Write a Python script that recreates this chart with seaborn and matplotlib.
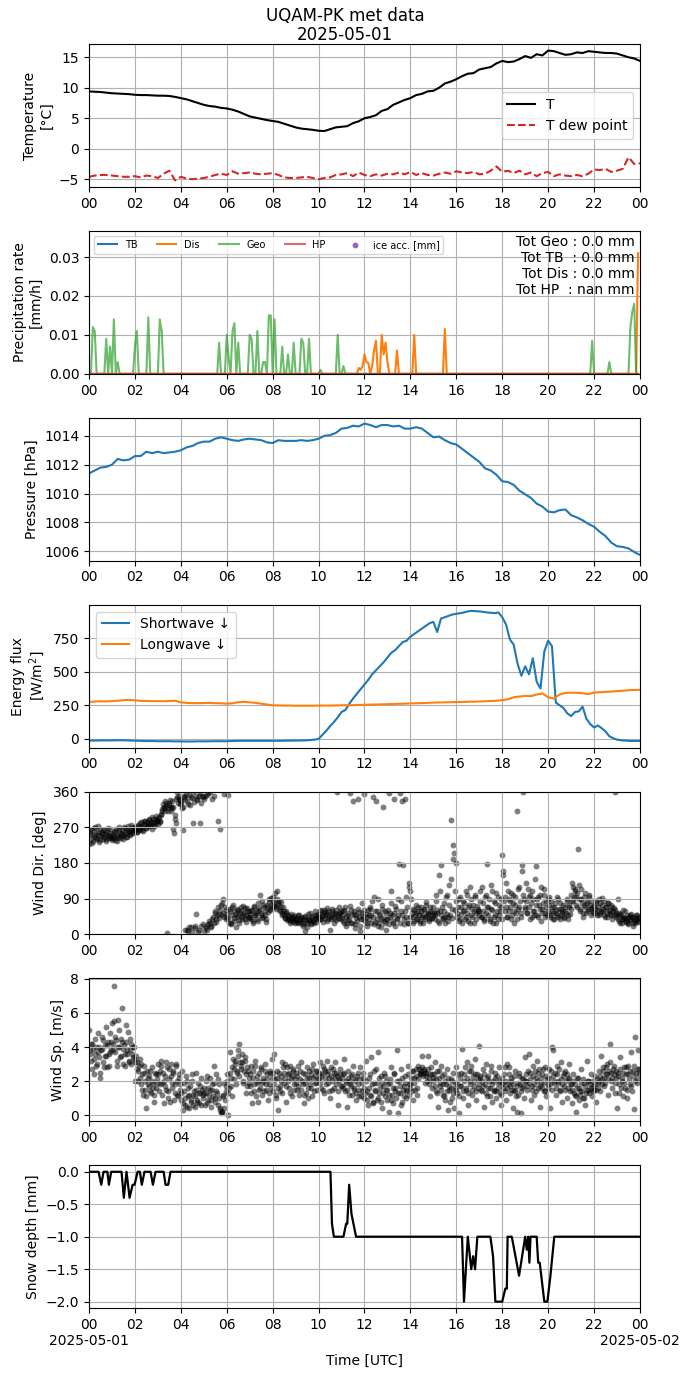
import matplotlib
matplotlib.use("Agg")
import matplotlib.pyplot as plt
import matplotlib.dates as mdates
from matplotlib.ticker import FuncFormatter, MultipleLocator
import pandas as pd
import seaborn as sns

DAY = "2025-05-01"

# ---------------------------
# data
# ---------------------------
# 15-min values
temp = [
    9.4, 9.35, 9.3, 9.2, 9.1, 9.05, 9.0, 8.95, 8.85, 8.8, 8.8, 8.75,
    8.7, 8.7, 8.65, 8.5, 8.3, 8.1, 7.8, 7.5, 7.2, 7.0, 6.9, 6.7,
    6.6, 6.4, 6.1, 5.7, 5.3, 5.1, 4.9, 4.7, 4.55, 4.4, 4.1, 3.8,
    3.5, 3.3, 3.2, 3.1, 2.95, 2.9, 3.2, 3.5, 3.6, 3.7, 4.2, 4.5,
    5.0, 5.2, 5.5, 6.2, 6.5, 7.2, 7.6, 8.0, 8.3, 8.8, 9.0, 9.4,
    9.5, 10.0, 10.7, 11.0, 11.4, 11.9, 12.3, 12.4, 13.0, 13.2, 13.4, 14.0,
    14.4, 14.2, 14.3, 14.7, 15.2, 14.9, 15.5, 15.3, 16.1, 16.0, 15.7, 15.4,
    15.5, 15.8, 15.7, 16.0, 15.9, 15.8, 15.7, 15.7, 15.6, 15.3, 15.0, 14.8,
    14.4,
]
dew = [
    -4.6, -4.4, -4.3, -4.3, -4.4, -4.5, -4.6, -4.6, -4.5, -4.7, -4.4, -4.5,
    -4.8, -4.1, -3.6, -5.2, -4.6, -4.9, -5.0, -4.9, -4.8, -4.6, -4.3, -4.1,
    -4.3, -3.7, -4.1, -4.0, -3.9, -4.1, -4.2, -4.1, -4.0, -4.3, -4.7, -4.8,
    -4.8, -4.7, -4.6, -4.8, -5.0, -4.8, -4.7, -4.3, -4.2, -4.0, -4.5, -3.9,
    -4.3, -4.5, -4.2, -4.4, -4.1, -4.2, -3.9, -4.2, -3.8, -4.3, -4.0, -4.3,
    -4.4, -4.1, -3.9, -4.1, -3.7, -3.9, -4.0, -3.8, -4.2, -4.1, -3.6, -2.9,
    -3.8, -3.6, -4.0, -3.6, -4.2, -3.9, -4.5, -4.0, -3.8, -4.5, -4.2, -4.4,
    -4.5, -4.3, -4.5, -4.1, -3.4, -3.5, -3.3, -3.8, -3.6, -3.3, -1.4, -2.5,
    -2.4,
]
pressure = [
    1011.4, 1011.6, 1011.8, 1011.85, 1012.0, 1012.4, 1012.3, 1012.35,
    1012.6, 1012.6, 1012.9, 1012.8, 1012.9, 1012.8, 1012.85, 1012.9,
    1013.0, 1013.2, 1013.3, 1013.5, 1013.6, 1013.6, 1013.8, 1013.9,
    1013.8, 1013.7, 1013.65, 1013.75, 1013.8, 1013.75, 1013.7, 1013.55,
    1013.5, 1013.7, 1013.65, 1013.65, 1013.65, 1013.7, 1013.65, 1013.7,
    1013.8, 1014.0, 1014.05, 1014.2, 1014.5, 1014.55, 1014.7, 1014.65,
    1014.85, 1014.75, 1014.6, 1014.75, 1014.75, 1014.65, 1014.7, 1014.5,
    1014.5, 1014.6, 1014.5, 1014.2, 1013.9, 1013.95, 1013.7, 1013.5,
    1013.4, 1013.1, 1012.8, 1012.5, 1012.2, 1011.75, 1011.6, 1011.3,
    1010.85, 1010.8, 1010.6, 1010.2, 1009.95, 1009.7, 1009.3, 1009.1,
    1008.75, 1008.7, 1008.85, 1008.9, 1008.5, 1008.35, 1008.15, 1007.9,
    1007.7, 1007.35, 1007.05, 1006.6, 1006.35, 1006.3, 1006.2, 1005.95,
    1005.75,
]
longwave = [
    275, 278, 280, 279, 281, 284, 288, 290, 287, 283, 282, 281,
    281, 280, 282, 284, 272, 268, 266, 266, 267, 268, 266, 265,
    262, 265, 273, 276, 272, 268, 262, 256, 250, 249, 248, 248,
    247, 247, 247, 247, 248, 248, 248, 249, 250, 251, 251, 252,
    254, 255, 256, 257, 258, 260, 261, 262, 264, 265, 266, 268,
    270, 271, 272, 273, 274, 275, 276, 277, 278, 280, 282, 284,
    288, 295, 310, 315, 320, 318, 330, 338, 310, 300, 330, 342,
    344, 343, 340, 333, 345, 347, 350, 352, 355, 358, 362, 364,
    365,
]
# 10-min values
shortwave = [
    -12, -12, -12, -11, -11, -11, -11, -10, -10, -10, -11, -12,
    -13, -14, -15, -16, -16, -16, -17, -17, -17, -17, -18, -18,
    -18, -19, -19, -19, -18, -18, -18, -18, -17, -17, -17, -17,
    -17, -16, -15, -14, -14, -14, -14, -14, -14, -14, -14, -14,
    -14, -14, -14, -13, -13, -12, -12, -12, -11, -10, -8, -5,
    0, 30, 60, 95, 125, 160, 200, 215, 260, 300, 335, 370,
    405, 440, 480, 510, 540, 570, 605, 640, 660, 690, 720, 730,
    760, 780, 800, 820, 840, 860, 870, 795, 895, 905, 915, 925,
    930, 935, 940, 948, 952, 950, 948, 945, 940, 938, 935, 940,
    905, 850, 740, 700, 560, 470, 540, 480, 600, 425, 375, 650,
    730, 690, 270, 250, 230, 190, 170, 200, 205, 240, 150, 110,
    85, 100, 80, 55, 20, 5, -5, -10, -12, -14, -15, -15,
    -15,
]

# precipitation rate, non-zero 5-min values only [mm/h]
geo_times = [
    "00:10", "00:15", "00:45", "00:55", "01:05", "01:15", "02:00", "02:05",
    "02:35", "03:05", "03:10", "05:40", "06:00", "06:05", "06:15", "06:20",
    "06:30", "07:00", "07:05", "07:20", "07:35", "07:40", "07:50", "07:55",
    "08:05", "08:25", "08:40", "08:55", "09:15", "09:20", "09:35", "10:05",
    "10:50", "11:05", "21:55", "22:40", "23:35", "23:40", "23:45",
]
geo_vals = [
    0.012, 0.011, 0.009, 0.007, 0.014, 0.003, 0.007, 0.011,
    0.0145, 0.014, 0.011, 0.008, 0.010, 0.004, 0.011, 0.013,
    0.008, 0.010, 0.009, 0.011, 0.003, 0.003, 0.015, 0.015,
    0.014, 0.007, 0.005, 0.008, 0.009, 0.008, 0.009, 0.001,
    0.010, 0.002, 0.0085, 0.003, 0.012, 0.016, 0.018,
]
dis_times = [
    "11:45", "11:50", "11:55", "12:00", "12:05", "12:10", "12:20", "12:25",
    "12:30", "12:45", "12:50", "12:55", "13:00", "13:25", "14:10", "15:30",
    "23:55",
]
dis_vals = [
    0.0015, 0.001, 0.002, 0.005, 0.003, 0.0028, 0.002, 0.006,
    0.0085, 0.010, 0.005, 0.008, 0.003, 0.006, 0.010, 0.0115,
    0.031,
]
precip_totals = {"Geo": "0.0", "TB": "0.0", "Dis": "0.0", "HP": "nan"}

# wind, 3-min samples (20 per hour); *_b are the samples 1.5 min later
wind_dir = [
    228, 262, 250, 231, 268, 245, 256, 240, 272, 250, 238, 259, 264, 246, 253, 241, 258, 249, 266, 244,
    238, 252, 245, 260, 235, 248, 270, 256, 243, 262, 250, 268, 257, 246, 274, 261, 252, 266, 271, 258,
    262, 270, 258, 276, 266, 282, 271, 260, 279, 287, 268, 276, 290, 272, 283, 296, 280, 274, 292, 285,
    278, 295, 286, 304, 315, 322, 310, 330, 4, 318, 326, 312, 335, 320, 255, 290, 280, 358, 340, 328,
    330, 318, 262, 345, 12, 336, 8, 352, 325, 18, 343, 280, 15, 52, 338, 6, 350, 280, 22, 345,
    8, 348, 20, 12, 356, 30, 18, 342, 45, 28, 60, 38, 285, 52, 265, 75, 48, 88, 355, 62,
    45, 352, 30, 58, 25, 70, 42, 52, 18, 65, 48, 36, 60, 44, 72, 55, 38, 50, 66, 42,
    52, 38, 62, 30, 70, 48, 58, 35, 66, 100, 55, 42, 74, 50, 32, 68, 56, 82, 62, 75,
    85, 72, 105, 64, 90, 78, 60, 82, 55, 70, 48, 42, 58, 38, 46, 35, 52, 40, 32, 45,
    36, 42, 28, 48, 32, 40, 22, 44, 8, 36, 30, 52, 38, 26, 46, 34, 30, 58, 42, 48,
    52, 40, 62, 46, 32, 56, 48, 66, 38, 52, 10, 45, 60, 42, 55, 36, 360, 48, 70, 54,
    42, 58, 30, 68, 22, 48, 36, 357, 62, 28, 335, 52, 15, 42, 340, 56, 8, 38, 80, 46,
    355, 45, 28, 62, 38, 70, 50, 345, 95, 32, 335, 58, 22, 48, 40, 75, 320, 35, 60, 12,
    40, 357, 55, 110, 48, 30, 340, 72, 42, 90, 178, 357, 60, 335, 25, 340, 45, 70, 30, 130,
    110, 55, 30, 62, 48, 75, 40, 58, 35, 68, 50, 28, 64, 45, 82, 52, 38, 60, 42, 56,
    70, 48, 100, 55, 35, 150, 60, 175, 42, 80, 30, 95, 52, 45, 125, 288, 65, 225, 205, 110,
    180, 55, 90, 40, 70, 30, 85, 62, 45, 100, 35, 75, 120, 50, 65, 28, 95, 55, 72, 60,
    60, 110, 45, 80, 35, 95, 55, 178, 70, 40, 125, 62, 30, 85, 50, 105, 40, 75, 58, 90,
    200, 160, 95, 70, 45, 110, 60, 85, 40, 100, 30, 75, 55, 311, 65, 120, 45, 175, 358, 90,
    70, 130, 55, 95, 40, 80, 110, 60, 50, 172, 90, 45, 75, 100, 35, 65, 115, 55, 85, 48,
    60, 95, 45, 70, 55, 40, 80, 62, 50, 90, 38, 65, 55, 75, 42, 58, 85, 48, 68, 52,
    100, 130, 85, 115, 95, 70, 215, 125, 60, 90, 45, 75, 105, 55, 80, 65, 95, 50, 70, 60,
    72, 55, 85, 62, 48, 78, 58, 92, 65, 50, 70, 45, 80, 60, 52, 75, 40, 66, 358, 55,
    48, 90, 35, 52, 28, 45, 38, 60, 32, 42, 25, 50, 36, 44, 20, 40, 30, 48, 35, 42,
]
wind_dir_b = [
    255, 240, 262, 236, 250, 270, 244, 258, 232, 265, 248, 254, 240, 262, 236, 250, 268, 242, 256, 247,
    244, 258, 238, 266, 250, 242, 262, 248, 256, 240, 270, 254, 246, 265, 258, 250, 276, 262, 255, 268,
    266, 258, 274, 262, 280, 270, 264, 285, 275, 268, 282, 272, 288, 278, 265, 292, 284, 276, 298, 286,
    290, 282, 300, 312, 328, 318, 335, 324, 312, 330, 338, 322, 318, 265, 300, 340, 345, 332, 350, 338,
    335, 322, 348, 340, 355, 10, 328, 18, 345, 5, 360, 333, 20, 350, 342, 10, 356, 330, 348, 25,
    340, 15, 352, 25, 35, 360, 22, 40, 350, 55, 32, 48, 70, 42, 62, 80, 55, 45, 68, 38,
    52, 38, 65, 28, 48, 75, 35, 58, 45, 62, 30, 55, 70, 40, 50, 66, 32, 58, 45, 60,
    45, 60, 35, 72, 48, 55, 40, 78, 62, 50, 85, 45, 68, 58, 40, 75, 88, 65, 92, 70,
    95, 80, 68, 110, 75, 85, 62, 70, 50, 58, 42, 55, 36, 48, 40, 30, 44, 36, 50, 28,
    40, 32, 50, 36, 44, 25, 38, 30, 46, 18, 40, 34, 55, 28, 42, 36, 50, 32, 45, 38,
    45, 58, 38, 50, 62, 42, 55, 35, 58, 46, 40, 65, 52, 30, 48, 62, 42, 55, 38, 60,
    50, 35, 62, 45, 28, 55, 40, 72, 30, 48, 60, 25, 50, 35, 65, 45, 20, 55, 38, 62,
    35, 52, 20, 48, 65, 30, 85, 45, 25, 60, 40, 90, 30, 52, 18, 65, 42, 28, 55, 38,
    62, 25, 45, 80, 35, 55, 20, 65, 40, 50, 30, 85, 48, 175, 38, 60, 95, 28, 120, 45,
    90, 45, 65, 35, 55, 40, 70, 50, 30, 58, 45, 62, 38, 75, 48, 55, 35, 68, 42, 50,
    55, 40, 85, 62, 30, 110, 48, 70, 38, 60, 45, 100, 35, 75, 50, 140, 42, 190, 62, 85,
    45, 70, 35, 95, 52, 60, 80, 40, 110, 55, 68, 30, 90, 45, 75, 60, 100, 40, 65, 50,
    85, 45, 120, 60, 40, 100, 70, 50, 90, 35, 65, 110, 45, 80, 30, 60, 95, 50, 70, 40,
    150, 85, 60, 130, 45, 90, 70, 105, 50, 80, 60, 95, 40, 115, 70, 85, 55, 160, 100, 65,
    85, 55, 115, 70, 100, 45, 90, 60, 140, 75, 50, 95, 65, 120, 55, 80, 100, 45, 70, 90,
    75, 50, 85, 60, 40, 70, 55, 95, 45, 65, 80, 50, 60, 45, 70, 55, 90, 40, 75, 65,
    85, 120, 95, 110, 75, 105, 90, 65, 115, 80, 55, 95, 70, 85, 60, 100, 75, 65, 85, 55,
    65, 80, 50, 70, 90, 55, 75, 60, 85, 45, 68, 55, 78, 62, 48, 70, 58, 50, 62, 45,
    40, 55, 30, 48, 38, 62, 42, 35, 50, 28, 45, 38, 52, 30, 44, 35, 50, 40, 32, 45,
]
wind_speed = [
    5.0, 3.8, 3.2, 4.2, 2.4, 3.6, 4.0, 3.0, 4.8, 3.4, 2.2, 3.9, 4.4, 2.8, 3.5, 5.2, 4.1, 2.9, 3.7, 4.3,
    5.4, 3.8, 7.6, 4.6, 3.2, 5.6, 4.0, 3.4, 4.5, 6.3, 3.9, 2.9, 4.3, 3.6, 4.9, 3.1, 3.8, 4.2, 3.4, 4.0,
    2.0, 3.5, 3.1, 2.6, 3.3, 1.8, 2.4, 1.2, 2.9, 1.5, 0.4, 2.2, 1.7, 2.6, 1.3, 2.0, 1.6, 0.8, 2.4, 1.9,
    3.0, 1.4, 2.6, 3.2, 1.9, 0.7, 2.3, 1.5, 2.8, 1.0, 2.1, 3.0, 1.6, 2.5, 0.9, 1.8, 2.9, 1.2, 2.2, 1.5,
    0.9, 2.6, 0.3, 1.4, 0.6, 2.0, 1.1, 0.4, 1.7, 0.8, 2.4, 1.2, 0.5, 1.5, 0.9, 1.9, 0.7, 1.3, 2.2, 1.0,
    1.6, 0.6, 1.3, 2.3, 0.9, 1.5, 0.5, 1.8, 1.1, 2.9, 0.8, 1.4, 2.1, 1.0, 0.3, 0.1, 0.2, 1.2, 0.4, 1.7,
    2.4, 0.0, 1.6, 3.7, 2.2, 1.1, 2.7, 3.2, 1.8, 2.5, 3.5, 4.2, 2.9, 3.1, 1.9, 2.6, 3.4, 1.3, 2.8, 2.2,
    1.7, 2.9, 0.7, 2.2, 1.4, 3.2, 1.9, 0.8, 2.5, 1.6, 2.8, 1.2, 2.0, 3.0, 1.5, 2.4, 0.9, 1.8, 2.6, 3.3,
    1.4, 3.6, 2.1, 1.0, 2.6, 0.3, 1.7, 2.3, 1.3, 2.8, 1.9, 3.0, 0.8, 2.4, 1.6, 2.9, 2.2, 1.1, 2.7, 1.8,
    2.5, 1.5, 2.9, 1.2, 2.1, 3.1, 1.8, 0.7, 2.4, 1.3, 2.8, 1.0, 2.2, 1.6, 2.7, 3.0, 1.4, 2.3, 1.9, 2.6,
    2.1, 3.1, 1.6, 2.4, 2.9, 1.3, 2.6, 3.2, 1.9, 2.2, 1.0, 2.8, 1.5, 2.5, 3.1, 1.8, 2.3, 0.6, 2.0, 2.7,
    1.7, 2.4, 3.3, 1.4, 2.0, 0.5, 2.6, 1.8, 2.3, 1.2, 2.9, 1.6, 2.1, 0.9, 2.5, 1.5, 2.8, 1.1, 1.9, 2.2,
    1.0, 3.2, 1.4, 0.6, 2.2, 1.2, 3.4, 0.8, 1.9, 1.5, 2.7, 0.9, 3.7, 1.3, 2.3, 0.4, 1.7, 2.5, 1.1, 2.0,
    1.5, 0.2, 1.9, 2.8, 1.2, 0.7, 2.4, 1.6, 3.8, 0.1, 2.0, 1.3, 2.7, 0.8, 1.7, 2.3, 1.0, 1.5, 2.9, 1.2,
    1.8, 2.6, 0.9, 2.2, 1.5, 2.7, 1.2, 2.9, 2.4, 2.6, 3.5, 2.3, 2.7, 1.9, 2.5, 3.5, 2.2, 1.1, 2.8, 2.4,
    2.0, 3.1, 1.4, 2.6, 0.5, 2.2, 1.7, 2.9, 1.2, 2.4, 0.9, 1.8, 2.7, 0.3, 1.5, 2.1, 1.0, 2.5, 0.4, 1.6,
    2.8, 1.3, 0.1, 2.2, 1.7, 3.9, 1.0, 2.4, 1.5, 3.1, 0.6, 2.6, 1.8, 2.9, 1.2, 2.0, 3.3, 0.9, 2.4, 1.6,
    4.05, 2.2, 1.4, 2.7, 0.5, 1.8, 3.0, 1.1, 2.3, 1.6, 2.9, 0.8, 2.0, 1.4, 2.5, 1.0, 1.9, 2.8, 1.3, 0.6,
    2.2, 1.6, 2.8, 0.9, 3.0, 1.8, 2.4, 1.3, 2.0, 0.4, 1.5, 2.6, 1.1, 0.2, 1.9, 2.3, 0.1, 1.6, 2.1, 1.0,
    3.4, 2.0, 1.5, 3.6, 2.5, 0.9, 1.7, 2.9, 1.2, 2.2, 3.2, 1.6, 2.7, 0.5, 1.9, 2.4, 1.4, 2.8, 1.1, 2.1,
    1.6, 2.7, 0.4, 4.0, 3.8, 1.9, 2.5, 1.2, 2.9, 2.0, 1.5, 3.1, 0.8, 2.3, 1.7, 2.6, 1.0, 2.1, 3.0, 1.4,
    1.8, 0.7, 2.4, 1.2, 0.2, 1.6, 2.2, 0.9, 1.4, 2.7, 1.0, 1.9, 0.6, 1.3, 3.2, 2.0, 1.5, 2.4, 1.1, 1.7,
    1.5, 2.3, 0.8, 1.9, 2.6, 1.4, 3.5, 2.1, 2.8, 1.7, 2.4, 3.0, 1.2, 2.6, 4.2, 2.0, 1.6, 2.9, 1.3, 2.2,
    0.4, 2.5, 1.3, 3.4, 2.0, 1.1, 2.8, 1.6, 2.4, 1.0, 2.9, 1.8, 3.7, 1.4, 2.6, 0.35, 4.6, 2.1, 3.8, 2.7,
]
wind_speed_b = [
    3.6, 4.2, 2.7, 3.9, 3.3, 4.5, 2.9, 3.7, 4.0, 2.5, 3.8, 4.6, 3.1, 4.1, 3.5, 2.8, 4.3, 3.6, 4.8, 3.9,
    4.2, 5.5, 3.7, 4.4, 2.9, 4.0, 5.0, 3.5, 4.3, 3.0, 4.1, 3.6, 5.3, 3.8, 3.2, 4.5, 3.0, 3.6, 4.0, 3.3,
    3.1, 2.7, 2.0, 2.9, 2.2, 3.0, 1.5, 2.5, 2.0, 1.1, 2.6, 1.8, 2.3, 1.4, 2.8, 1.9, 1.2, 2.5, 1.6, 2.1,
    2.4, 1.8, 2.9, 1.2, 2.5, 2.0, 1.7, 3.1, 1.4, 2.7, 0.8, 2.3, 1.9, 2.6, 1.3, 3.0, 2.0, 1.1, 2.4, 1.8,
    1.3, 0.7, 1.9, 1.0, 2.3, 0.5, 1.6, 1.2, 0.9, 2.0, 0.6, 1.4, 1.1, 2.5, 0.8, 1.3, 1.7, 0.6, 1.5, 1.2,
    1.3, 2.0, 0.7, 1.6, 1.2, 2.2, 0.9, 1.5, 1.9, 1.0, 2.4, 1.3, 0.6, 1.8, 0.4, 0.2, 1.1, 1.9, 0.9, 1.4,
    2.0, 1.3, 2.5, 1.7, 2.8, 3.3, 2.1, 3.0, 2.6, 3.8, 2.3, 3.1, 2.7, 3.6, 2.0, 3.2, 2.4, 1.7, 2.6, 1.9,
    2.4, 1.3, 2.6, 1.8, 2.9, 1.1, 2.3, 2.0, 1.5, 2.7, 1.9, 2.2, 1.4, 2.6, 1.8, 2.1, 1.3, 2.5, 1.6, 2.2,
    2.5, 1.8, 1.2, 2.2, 1.6, 2.5, 1.4, 2.0, 3.1, 2.5, 2.2, 1.7, 2.8, 2.0, 2.5, 1.3, 2.3, 2.6, 1.5, 2.1,
    1.9, 2.3, 1.7, 2.6, 1.5, 2.0, 2.5, 1.2, 1.9, 2.2, 1.6, 2.6, 1.8, 2.4, 1.1, 2.2, 1.9, 2.6, 1.5, 2.1,
    2.5, 1.9, 2.3, 1.5, 2.7, 2.1, 1.8, 2.4, 2.6, 1.4, 2.3, 2.0, 2.7, 1.6, 2.2, 2.5, 1.4, 2.1, 2.4, 1.7,
    2.2, 1.6, 2.5, 1.9, 1.5, 2.2, 1.2, 2.0, 1.7, 2.4, 1.5, 2.0, 1.3, 2.3, 1.8, 1.1, 2.1, 1.4, 2.5, 1.6,
    1.3, 2.0, 0.9, 1.6, 2.4, 1.1, 1.8, 0.7, 2.6, 1.4, 1.9, 1.0, 2.2, 1.6, 0.8, 1.9, 1.3, 2.3, 1.5, 0.9,
    1.8, 1.2, 2.1, 0.9, 1.6, 2.5, 1.4, 1.0, 2.0, 1.3, 1.7, 0.6, 2.2, 1.5, 1.1, 1.9, 1.4, 2.4, 1.8, 1.6,
    2.2, 1.4, 2.6, 1.9, 2.3, 1.6, 2.1, 2.7, 2.5, 2.4, 2.8, 2.6, 2.5, 2.3, 2.0, 2.7, 1.8, 2.4, 1.6, 2.2,
    2.4, 1.7, 2.1, 1.3, 2.6, 1.9, 1.5, 2.3, 1.8, 1.1, 2.0, 1.4, 2.2, 1.7, 0.8, 1.6, 2.0, 1.3, 1.9, 1.5,
    1.9, 2.4, 1.1, 1.7, 2.5, 1.4, 2.0, 2.8, 1.6, 2.2, 1.3, 2.0, 2.6, 1.5, 2.3, 1.7, 2.4, 1.4, 2.1, 1.8,
    2.3, 1.5, 2.0, 1.7, 2.4, 1.3, 2.2, 1.6, 2.0, 1.1, 2.6, 1.8, 1.5, 2.2, 1.4, 2.3, 1.6, 2.0, 1.2, 1.8,
    1.9, 2.4, 1.4, 2.0, 1.6, 2.8, 1.7, 2.2, 1.5, 1.8, 2.3, 1.4, 1.7, 1.2, 2.5, 1.8, 1.4, 2.2, 1.7, 2.0,
    2.4, 1.7, 2.6, 1.9, 2.1, 1.5, 2.3, 1.8, 2.6, 1.4, 2.0, 2.5, 1.7, 2.2, 1.6, 2.7, 1.9, 1.4, 2.3, 1.8,
    2.2, 1.8, 2.6, 1.5, 2.3, 2.0, 1.6, 2.4, 1.9, 2.7, 1.4, 2.1, 1.8, 2.5, 1.5, 2.0, 2.4, 1.6, 2.2, 1.8,
    1.5, 2.0, 1.3, 1.8, 1.1, 2.2, 1.6, 1.2, 1.9, 1.4, 2.1, 1.0, 1.7, 1.5, 2.0, 1.3, 1.8, 1.6, 2.0, 1.4,
    1.8, 1.5, 2.1, 1.6, 2.0, 2.3, 1.8, 2.6, 2.2, 1.9, 2.8, 2.4, 2.1, 3.1, 2.5, 2.2, 2.7, 2.4, 1.9, 2.6,
    2.3, 1.8, 2.7, 1.6, 2.2, 2.5, 1.9, 2.8, 1.5, 2.4, 2.1, 2.6, 1.7, 2.3, 2.9, 2.0, 2.5, 1.9, 2.7, 2.4,
]

# snow depth, breakpoints of the trace
snow_times = [
    "00:00", "00:25", "00:32", "00:38", "00:48", "00:52", "00:58", "01:25",
    "01:31", "01:38", "01:46", "01:54", "01:59", "02:07", "02:13", "02:18",
    "02:25", "02:41", "02:47", "02:54", "03:15", "03:20", "03:27", "03:33",
    "10:31", "10:35", "10:40", "11:05", "11:12", "11:15", "11:20", "11:26",
    "11:38", "16:15", "16:20", "16:30", "16:39", "16:44", "16:49", "16:55",
    "17:29", "17:36", "17:42", "18:00", "18:08", "18:12", "18:14", "18:25",
    "18:44", "19:00", "19:04", "19:08", "19:11", "19:14", "19:30", "19:34",
    "19:38", "19:50", "19:58", "20:06", "20:16", "24:00",
]
snow_vals = [
    0, 0, -0.2, 0, 0, -0.2, 0, 0,
    -0.4, 0, -0.4, -0.2, -0.2, 0, 0, -0.2,
    0, 0, -0.2, 0, 0, -0.2, -0.2, 0,
    0, -0.8, -1.0, -1.0, -0.8, -0.8, -0.2, -0.65,
    -1.0, -1.0, -2.0, -1.0, -1.5, -1.3, -1.5, -1.0,
    -1.0, -1.3, -2.0, -2.0, -1.8, -1.8, -1.0, -1.0,
    -1.6, -1.0, -1.2, -1.0, -1.4, -1.0, -1.0, -1.4,
    -1.4, -2.0, -2.0, -1.6, -1.0, -1.0,
]


def at(hhmm):
    return pd.Timestamp(DAY) + pd.Timedelta(hours=int(hhmm[:2]), minutes=int(hhmm[3:]))


def times(n, step, start=DAY):
    return pd.date_range(start, periods=n, freq=step)


def sparse_series(tlist, vlist):
    s = pd.Series(0.0, index=times(288, "5min"))
    for t, v in zip(tlist, vlist):
        s[at(t)] = v
    return s


t15 = times(len(temp), "15min")
t10 = times(len(shortwave), "10min")
geo = sparse_series(geo_times, geo_vals)
dis = sparse_series(dis_times, dis_vals)
zeros5 = pd.Series(0.0, index=geo.index)

# both wind sample sets on one time axis
wind = pd.DataFrame({
    "time": list(times(len(wind_dir), "3min")) + list(times(len(wind_dir_b), "3min", DAY + " 00:01:30")),
    "dir": wind_dir + wind_dir_b,
    "speed": wind_speed + wind_speed_b,
})

t0 = pd.Timestamp(DAY)
t1 = t0 + pd.Timedelta(days=1)

fig, axes = plt.subplots(7, 1, figsize=(6.9, 13.77), dpi=100)
fig.subplots_adjust(left=0.129, right=0.9275, top=0.968, bottom=0.05, hspace=0.308)
fig.suptitle("UQAM-PK met data\n" + DAY, fontsize=12, y=0.995, linespacing=1.05)

# temperature
ax = axes[0]
sns.lineplot(x=t15, y=temp, ax=ax, color="k", label="T", estimator=None)
sns.lineplot(x=t15, y=dew, ax=ax, color="#d62728", linestyle="--", label="T dew point", estimator=None)
ax.legend(loc="center right", fontsize=10)
ax.set_ylabel("Temperature\n[°C]")

# precipitation
ax = axes[1]
sns.lineplot(x=zeros5.index, y=zeros5.values, ax=ax, color="C0", label="TB", estimator=None)
sns.lineplot(x=dis.index, y=dis.values, ax=ax, color="C1", label="Dis", estimator=None)
sns.lineplot(x=geo.index, y=geo.values, ax=ax, color="C2", alpha=0.7, label="Geo", estimator=None)
sns.lineplot(x=zeros5.index, y=zeros5.values, ax=ax, color="C3", alpha=0.7, label="HP", estimator=None)
ax.scatter([], [], s=10, color="C4", label="ice acc. [mm]")
ax.legend(loc="upper left", ncol=5, fontsize=7)
tot_txt = "\n".join([
    "Tot Geo : %s mm" % precip_totals["Geo"],
    "Tot TB  : %s mm" % precip_totals["TB"],
    "Tot Dis : %s mm" % precip_totals["Dis"],
    "Tot HP  : %s mm" % precip_totals["HP"],
])
ax.text(0.99, 0.975, tot_txt, transform=ax.transAxes, ha="right", va="top", fontsize=10)
ax.set_ylim(0, 0.0367)
ax.set_ylabel("Precipitation rate\n[mm/h]")

# pressure
ax = axes[2]
sns.lineplot(x=t15, y=pressure, ax=ax, color="C0", estimator=None)
ax.set_ylim(1005.35, 1015.25)
ax.yaxis.set_major_locator(MultipleLocator(2))
ax.set_ylabel("Pressure [hPa]")

# radiation
ax = axes[3]
sns.lineplot(x=t10, y=shortwave, ax=ax, color="C0", label="Shortwave ↓", estimator=None)
sns.lineplot(x=t15, y=longwave, ax=ax, color="C1", label="Longwave ↓", estimator=None)
ax.set_ylim(-64, 998)
ax.yaxis.set_major_locator(MultipleLocator(250))
ax.legend(loc="upper left", fontsize=10)
ax.set_ylabel("Energy flux\n[W/m$^2$]")

# wind direction
ax = axes[4]
sns.scatterplot(data=wind, x="time", y="dir", ax=ax, color="k", alpha=0.5, s=18, linewidth=0)
ax.set_ylim(0, 360)
ax.set_yticks([0, 90, 180, 270, 360])
ax.set_ylabel("Wind Dir. [deg]")

# wind speed
ax = axes[5]
sns.scatterplot(data=wind, x="time", y="speed", ax=ax, color="k", alpha=0.5, s=18, linewidth=0)
ax.set_ylim(-0.36, 8.03)
ax.set_ylabel("Wind Sp. [m/s]")

# snow depth
ax = axes[6]
snow_t = [at(t) if t != "24:00" else t1 for t in snow_times]
sns.lineplot(x=snow_t, y=snow_vals, ax=ax, color="k", lw=1.6, estimator=None)
ax.set_ylabel("Snow depth [mm]")


def hour_label(x, pos):
    return mdates.num2date(x).strftime("%H")


def hour_label_dated(x, pos):
    d = mdates.num2date(x)
    lab = d.strftime("%H")
    if abs(x - mdates.date2num(t0)) < 1e-6 or abs(x - mdates.date2num(t1)) < 1e-6:
        lab += "\n" + d.strftime("%Y-%m-%d")
    return lab


for i, ax in enumerate(axes):
    ax.set_xlim(t0, t1)
    ax.xaxis.set_major_locator(mdates.HourLocator(byhour=range(0, 24, 2)))
    ax.xaxis.set_major_formatter(FuncFormatter(hour_label_dated if i == 6 else hour_label))
    ax.grid(True, color="#b0b0b0", lw=0.8)
    ax.set_xlabel("Time [UTC]" if i == 6 else "")

fig.savefig("out.png", dpi=100)
